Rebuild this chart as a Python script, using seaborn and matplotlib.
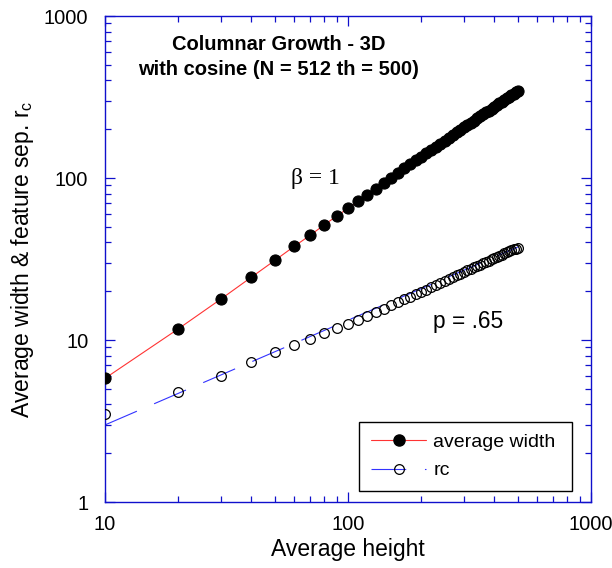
import numpy as np
import pandas as pd
import matplotlib
matplotlib.use("Agg")
import matplotlib.pyplot as plt
import seaborn as sns
from matplotlib.lines import Line2D
from matplotlib.ticker import LogLocator, FuncFormatter, NullFormatter

# ---------------- data ----------------
height = [10, 20, 30, 40, 50, 60, 70, 80, 90, 100,
          110, 120, 130, 140, 150, 160, 170, 180, 190, 200,
          210, 220, 230, 240, 250, 260, 270, 280, 290, 300,
          310, 320, 330, 340, 350, 360, 370, 380, 390, 400,
          410, 420, 430, 440, 450, 460, 470, 480, 490, 500]

avg_width = [5.8, 11.7, 17.9, 24.4, 31.0, 37.8, 44.4, 51.5, 58.3, 65.0,
             72.0, 78.5, 86.0, 93.5, 100.5, 107.5, 114.5, 121.5, 128.5, 135.0,
             142.0, 149.0, 156.0, 163.0, 170.0, 177.5, 184.5, 191.5, 198.5, 205.5,
             212.0, 219.0, 226.0, 233.0, 240.0, 247.0, 254.0, 261.0, 268.0, 275.0,
             282.0, 289.0, 296.0, 303.0, 310.0, 317.0, 324.0, 331.0, 338.0, 345.0]

rc = [3.5, 4.8, 6.0, 7.3, 8.4, 9.3, 10.2, 11.0, 11.9, 12.6,
      13.3, 14.0, 14.8, 15.6, 16.4, 17.1, 17.8, 18.5, 19.2, 19.8,
      20.4, 21.1, 21.7, 22.4, 23.2, 23.8, 24.5, 25.1, 25.7, 26.3,
      26.9, 27.5, 28.1, 28.7, 29.2, 29.8, 30.4, 30.9, 31.5, 32.0,
      32.6, 33.1, 33.7, 34.2, 34.7, 35.2, 35.7, 36.2, 36.7, 37.1]

# power-law fit for rc (p = .65)
fit_height = [10, 500]
fit_rc = [2.99, 37.5]

x_ticks = [10, 100, 1000]
y_ticks = [1, 10, 100, 1000]

title_text = "Columnar Growth - 3D\nwith cosine (N = 512 th = 500)"
beta_text = "\u03b2 = 1"
p_text = "p = .65"
legend_labels = ["average width", "rc"]

# ---------------- styling ----------------
RED = "#ff3333"
BLUE = "#3333ff"
AXIS_BLUE = "#1010cc"

sns.set_theme(style="ticks")
plt.rcParams["font.family"] = ["Liberation Sans", "DejaVu Sans"]
plt.rcParams["mathtext.fontset"] = "custom"
plt.rcParams["mathtext.rm"] = "Liberation Sans"
plt.rcParams["mathtext.it"] = "Liberation Sans:italic"
plt.rcParams["lines.scale_dashes"] = False
plt.rcParams["text.color"] = "black"
plt.rcParams["axes.labelcolor"] = "black"
plt.rcParams["xtick.labelcolor"] = "black"
plt.rcParams["ytick.labelcolor"] = "black"

fig = plt.figure(figsize=(6.12, 5.68), dpi=100)
ax = fig.add_axes([105 / 612, 66 / 568, 486 / 612, 486 / 568])
ax.set_xscale("log")
ax.set_yscale("log")

df = pd.DataFrame({"height": height, "avg_width": avg_width, "rc": rc})
fit_df = pd.DataFrame({"height": fit_height, "rc": fit_rc})

DASH = (25, 13.5)

sns.lineplot(data=df, x="height", y="avg_width", ax=ax, color=RED, lw=0.8,
             marker="o", markersize=8, markerfacecolor="black",
             markeredgecolor="black", markeredgewidth=0.8, zorder=3)
sns.lineplot(data=df, x="height", y="rc", ax=ax, linestyle="", marker="o",
             markersize=7, markerfacecolor="none", markeredgecolor="black",
             markeredgewidth=0.9, zorder=3)
sns.lineplot(data=fit_df, x="height", y="rc", ax=ax, color=BLUE, lw=0.8, zorder=2.5)
ax.lines[-1].set_dashes(DASH)

ax.set_xlim(10, 1000)
ax.set_ylim(1, 1000)

fmt = FuncFormatter(lambda v, p: f"{v:g}")
ax.xaxis.set_major_locator(plt.FixedLocator(x_ticks))
ax.yaxis.set_major_locator(plt.FixedLocator(y_ticks))
ax.xaxis.set_minor_locator(LogLocator(base=10, subs=np.arange(2, 10), numticks=20))
ax.yaxis.set_minor_locator(LogLocator(base=10, subs=np.arange(2, 10), numticks=20))
ax.xaxis.set_major_formatter(fmt)
ax.yaxis.set_major_formatter(fmt)
ax.xaxis.set_minor_formatter(NullFormatter())
ax.yaxis.set_minor_formatter(NullFormatter())

ax.tick_params(which="both", direction="in", top=True, right=True,
               color=AXIS_BLUE, width=0.9, labelcolor="black")
ax.tick_params(which="major", length=7.2, labelsize=14.5)
ax.tick_params(which="minor", length=4.2)
ax.tick_params(axis="x", pad=9)
ax.tick_params(axis="y", pad=12)
for s in ax.spines.values():
    s.set_color(AXIS_BLUE)
    s.set_linewidth(1.0)

ax.set_xlabel("Average height", fontsize=16.5, labelpad=3, color="black")
ax.set_ylabel("Average width & feature sep. r$_{\\rm c}$", fontsize=16.5, labelpad=6,
              color="black")

ax.text(0.358, 0.915, title_text, transform=ax.transAxes, ha="center", va="center",
        fontsize=14.5, fontweight="bold", linespacing=1.42, color="black")
ax.text(0.432, 0.666, beta_text, transform=ax.transAxes, ha="center", va="center",
        fontsize=17, family=["Liberation Serif", "DejaVu Serif"], color="black")
ax.text(0.747, 0.372, p_text, transform=ax.transAxes, ha="center", va="center",
        fontsize=16.4, color="black")

h1 = Line2D([], [], color=RED, lw=0.8, marker="o", markersize=8,
            markerfacecolor="black", markeredgecolor="black")
h2 = Line2D([], [], color=BLUE, lw=0.8, dashes=DASH, marker="o", markersize=7,
            markerfacecolor="none", markeredgecolor="black", markeredgewidth=0.9)
leg = ax.legend(handles=[h1, h2], labels=legend_labels, loc="lower left",
                bbox_to_anchor=(0.523, 0.0226, 0.438, 0.144), mode="expand",
                borderaxespad=0, fancybox=False, frameon=True, edgecolor="black",
                framealpha=1, fontsize=14, handlelength=2.85, handletextpad=0.36,
                borderpad=0.6, labelspacing=0.55, numpoints=1)
leg.get_frame().set_linewidth(1.0)
for t in leg.get_texts():
    t.set_color("black")

fig.savefig("out.png", dpi=100)
